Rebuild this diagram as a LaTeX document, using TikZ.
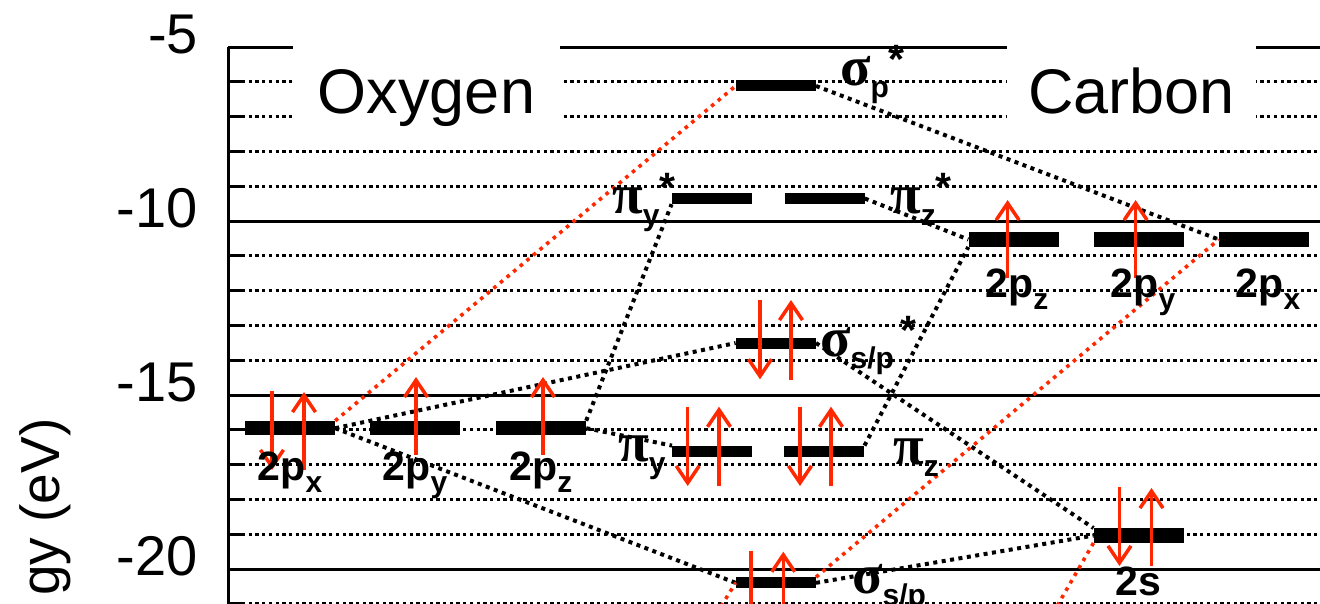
\documentclass[tikz,border=0pt]{standalone}
\usepackage{fontspec}
\setmainfont{Liberation Sans}
\newfontfamily\greekfont{Liberation Serif}
\usepackage{tikz}
\usetikzlibrary{arrows.meta}

\definecolor{spinred}{RGB}{255,40,0}
\newcommand{\lsub}[1]{\raisebox{-12pt}{\fontsize{30}{30}\selectfont #1}}
\newcommand{\lstar}{\raisebox{12pt}{*}}
\newcommand{\gsym}[1]{{\greekfont\fontsize{56}{56}\selectfont #1}}

\begin{document}
\begin{tikzpicture}[x=1pt,y=34.8pt,
    major/.style={line width=3pt},
    minor/.style={line width=3pt,dash pattern=on 3.3pt off 3.4pt},
    ao/.style={fill=black,inner sep=0pt,minimum width=90pt,minimum height=14.5pt},
    mo/.style={ao,minimum width=80pt,minimum height=11pt},
    link/.style={line width=4pt,dash pattern=on 4pt off 4.5pt},
    mixlink/.style={link,draw=spinred,line width=3.6pt,dash pattern=on 3.6pt off 5pt},
    spin/.style={draw=spinred,line width=3.5pt,
        -{Straight Barb[length=17pt,width=23pt,line width=3.5pt]}},
    orb/.style={inner sep=0pt,font=\fontsize{41}{41}\selectfont\bfseries},
    tick/.style={inner sep=0pt,anchor=base east,font=\fontsize{56}{56}\selectfont},
    title/.style={fill=white,anchor=base,inner sep=0pt,minimum width=267pt,
        minimum height=97pt,text height=60pt,text depth=13pt,
        font=\fontsize{63}{63}\selectfont}]
\useasboundingbox (0,-3.6494) rectangle (1320,-20.99);
\clip (0,-3.6494) rectangle (1320,-20.99);

\foreach \e in {-6,-7,-8,-9,-11,-12,-13,-14,-16,-17,-18,-19,-21}
    \draw[minor] (242,\e) -- (1320,\e);
\foreach \e in {-6,...,-21}
    \draw[major] (228,\e) -- (242,\e);
\foreach \e in {-5,-10,-15,-20}{
    \draw[major] (228,\e) -- (1320,\e);
    \node[tick] (lab\e) at (198,\e-0.2) {\e};}
\draw[major] (228,-5) -- (228,-21.5);
\node[tick,rotate=90,font=\fontsize{55}{55}\selectfont] (elabel) at (59,-15.67) {gy (eV)};

\node[title] (oxy) at (426.5,-6.897) {Oxygen};
\node[title,minimum width=249pt] (carb) at (1131.5,-6.897) {Carbon};

\node[ao] (o2px) at (290,-15.954) {};
\node[ao] (o2py) at (415,-15.954) {};
\node[ao] (o2pz) at (541,-15.954) {};
\node[ao] (c2pz) at (1013.5,-10.532) {};
\node[ao] (c2py) at (1138.7,-10.532) {};
\node[ao] (c2px) at (1264,-10.532) {};
\node[ao] (c2s) at (1138.7,-19.037) {};
\node[mo] (sigpstar) at (775.8,-6.12) {};
\node[mo] (piystar) at (711.8,-9.353) {};
\node[mo] (pizstar) at (824.6,-9.353) {};
\node[mo] (sigspstar) at (775.8,-13.506) {};
\node[mo] (piy) at (712.2,-16.618) {};
\node[mo] (piz) at (824.3,-16.618) {};
\node[mo] (sigsp) at (775.8,-20.397) {};
\coordinate (o2s) at (694,-22.33);
\coordinate (sigs) at (1031.6,-22.33);

\draw[link] (o2px.east) -- (sigspstar.west);
\draw[link] (o2px.east) -- (sigsp.west);
\draw[link] (o2pz.east) -- (piy.north west);
\draw[link] (o2pz.north east) -- (piystar.south west);
\draw[link] (pizstar.east) -- (c2pz.west);
\draw[link] (piz.north east) -- (c2pz.south west);
\draw[link] (sigpstar.east) -- (c2px.west);
\draw[link] (sigspstar.east) -- (c2s.north west);
\draw[link] (sigsp.east) -- (c2s.west);
\draw[mixlink] (o2px.north east) -- (sigpstar.west);
\draw[mixlink] (sigsp.north east) -- (c2px.west);
\draw[mixlink] (o2s) -- (sigsp.west);
\draw[mixlink] (c2s.south west) -- (sigs);

\foreach \x/\a/\b in {272/-14.885/-17.155, 304/-17.155/-14.914,
    416/-16.724/-14.483, 543/-16.724/-14.483,
    1007.6/-11.638/-9.397, 1135.6/-11.638/-9.397,
    1119.5/-17.644/-19.914, 1151.5/-19.914/-17.672,
    760/-12.27/-14.549, 791/-14.569/-12.27,
    687.7/-15.336/-17.615, 719/-17.615/-15.336,
    800/-15.336/-17.615, 831/-17.615/-15.336,
    751/-19.474/-21.75, 783.3/-21.75/-19.503}
    \draw[spin] (\x,\a) -- (\x,\b);

\node[orb,anchor=base] (lo2px) at (290,-17.443) {2p\lsub{x}};
\node[orb,anchor=base] (lo2py) at (415,-17.443) {2p\lsub{y}};
\node[orb,anchor=base] (lo2pz) at (541,-17.443) {2p\lsub{z}};
\node[orb,anchor=base] (lc2pz) at (1017,-12.184) {2p\lsub{z}};
\node[orb,anchor=base] (lc2py) at (1143,-12.184) {2p\lsub{y}};
\node[orb,anchor=base] (lc2px) at (1268,-12.184) {2p\lsub{x}};
\node[orb,anchor=base] (lc2s) at (1138.5,-20.75) {2s};
\node[orb,anchor=base west] (lsigpstar) at (840,-6.092) {\gsym{σ}\lsub{p}\lstar};
\node[orb,anchor=base west] (lpiystar) at (612,-9.770) {\gsym{π}\lsub{y}\lstar};
\node[orb,anchor=base west] (lpizstar) at (890,-9.770) {\gsym{π}\lsub{z}\lstar};
\node[orb,anchor=base west] (lsigspstar) at (820,-13.899) {\gsym{σ}\lsub{s/p}\,\lstar};
\node[orb,anchor=base west] (lpiy) at (618,-16.917) {\gsym{π}\lsub{y}};
\node[orb,anchor=base west] (lpiz) at (893,-16.983) {\gsym{π}\lsub{z}};
\node[orb,anchor=base west] (lsigsp) at (852,-20.718) {\gsym{σ}\lsub{s/p}};
\end{tikzpicture}
\end{document}
